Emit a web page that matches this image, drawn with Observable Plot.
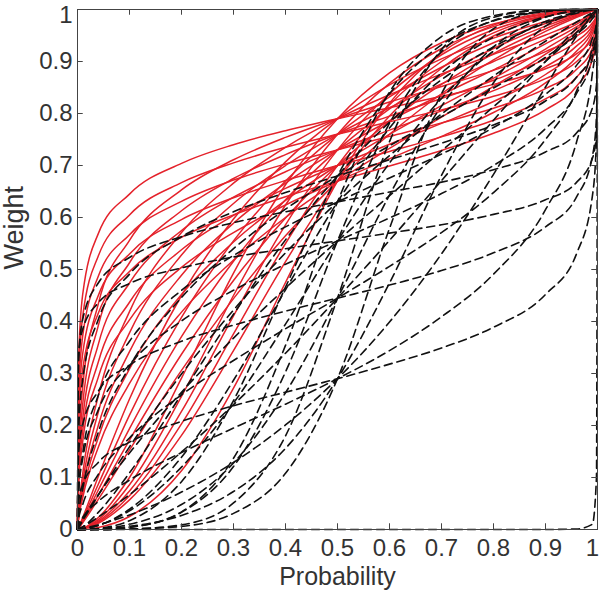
<!DOCTYPE html>
<html><head><meta charset="utf-8">
<script src="https://cdn.jsdelivr.net/npm/d3@7"></script>
<script src="https://cdn.jsdelivr.net/npm/@observablehq/plot@0.6"></script>
<style>body{margin:0;background:#fff}</style>
</head><body><div id="chart"></div>
<script>
// probability grid on which every curve was read
const pGrid = [0, 0.002, 0.01, 0.04, 0.1, 0.2, 0.3, 0.4, 0.5, 0.6, 0.7, 0.8, 0.9, 0.96, 0.99, 0.998, 1];

// red solid curves, grouped by their crossing height at p = 0.5
const redW79 = [
  [0, .326, .452, .569, .645, .704, .740, .767, .790, .811, .833, .856, .886, .915, .945, .967, 1],
  [0, .144, .274, .434, .556, .653, .711, .754, .790, .822, .852, .883, .919, .949, .974, .988, 1],
  [0, .034, .107, .257, .419, .571, .666, .735, .790, .836, .876, .914, .951, .976, .992, .998, 1],
  [0, .004, .023, .102, .251, .450, .597, .707, .790, .855, .905, .945, .977, .992, .998, 1, 1],
  [0, 0, .002, .023, .100, .291, .493, .663, .790, .878, .936, .972, .992, .998, 1, 1, 1]
];
const redW76 = [
  [0, .290, .410, .526, .605, .667, .705, .735, .760, .784, .807, .833, .867, .900, .935, .961, 1],
  [0, .124, .241, .392, .513, .613, .675, .721, .760, .795, .829, .864, .905, .939, .969, .986, 1],
  [0, .029, .091, .226, .378, .528, .627, .700, .760, .811, .857, .900, .943, .972, .990, .997, 1],
  [0, .003, .020, .087, .220, .408, .555, .670, .760, .832, .889, .936, .973, .991, .998, 1, 1],
  [0, 0, .002, .019, .086, .256, .450, .624, .760, .858, .925, .967, .991, .998, 1, 1, 1]
];
const redW73 = [
  [0, .258, .372, .487, .567, .631, .672, .703, .730, .756, .782, .810, .848, .885, .925, .955, 1],
  [0, .108, .213, .356, .474, .575, .639, .688, .730, .768, .805, .844, .890, .930, .964, .984, 1],
  [0, .025, .079, .200, .342, .489, .589, .666, .730, .786, .836, .884, .934, .967, .988, .997, 1],
  [0, .003, .017, .076, .194, .371, .516, .634, .730, .809, .873, .925, .968, .989, .998, 1, 1],
  [0, 0, .002, .016, .074, .227, .411, .586, .730, .838, .913, .961, .989, .998, 1, 1, 1]
];
const redW70 = [
  [0, .231, .338, .450, .530, .596, .638, .671, .700, .727, .755, .787, .828, .870, .914, .948, 1],
  [0, .095, .190, .322, .437, .538, .604, .656, .700, .741, .781, .823, .875, .920, .959, .981, 1],
  [0, .022, .069, .177, .309, .452, .553, .633, .700, .760, .815, .868, .924, .962, .987, .996, 1],
  [0, .003, .015, .066, .172, .337, .479, .599, .700, .785, .856, .915, .963, .987, .997, 1, 1],
  [0, 0, .002, .014, .065, .203, .376, .550, .700, .817, .900, .955, .988, .997, 1, 1, 1]
];
const redW67 = [
  [0, .207, .308, .416, .496, .562, .605, .640, .670, .699, .729, .762, .807, .853, .903, .940, 1],
  [0, .083, .169, .293, .403, .504, .571, .624, .670, .713, .756, .802, .859, .909, .953, .978, 1],
  [0, .019, .061, .158, .281, .418, .518, .600, .670, .733, .793, .852, .914, .957, .985, .995, 1],
  [0, .002, .013, .058, .153, .306, .444, .565, .670, .760, .838, .903, .958, .985, .997, 1, 1],
  [0, 0, .001, .012, .057, .181, .344, .515, .670, .795, .887, .949, .986, .997, 1, 1, 1],
  [0, 0, 0, .004, .025, .113, .272, .475, .670, .820, .917, .970, .994, .999, 1, 1, 1]
];

// black dashed curves, grouped by their crossing height at p = 0.5
const blackW68 = [
  [0, .185, .289, .404, .491, .563, .611, .648, .680, .711, .743, .778, .824, .870, .918, .952, 1],
  [0, .027, .078, .187, .313, .446, .540, .616, .680, .738, .794, .849, .908, .952, .982, .994, 1],
  [0, .001, .005, .033, .109, .260, .414, .557, .680, .783, .865, .928, .974, .993, .999, 1, 1],
  [0, 0, 0, .002, .017, .092, .248, .466, .680, .838, .932, .978, .996, 1, 1, 1, 1]
];
const blackW63 = [
  [0, .330, .404, .474, .523, .563, .590, .611, .630, .649, .668, .692, .726, .763, .810, .855, 1],
  [0, .071, .146, .258, .362, .460, .527, .582, .630, .676, .722, .773, .837, .893, .944, .974, 1],
  [0, .003, .017, .066, .159, .299, .422, .532, .630, .719, .799, .872, .939, .976, .994, .999, 1],
  [0, 0, .001, .008, .039, .139, .287, .461, .630, .772, .878, .947, .986, .997, 1, 1, 1],
  [0, 0, 0, 0, .004, .034, .137, .354, .630, .841, .948, .988, .999, 1, 1, 1, 1]
];
const blackW55 = [
  [0, .329, .385, .436, .473, .503, .524, .540, .555, .570, .586, .606, .634, .668, .713, .760, 1],
  [0, .071, .136, .230, .317, .401, .460, .510, .555, .599, .646, .700, .771, .839, .908, .953, 1],
  [0, .005, .020, .067, .147, .264, .368, .464, .555, .642, .728, .813, .900, .956, .987, .997, 1],
  [0, 0, .001, .008, .036, .120, .243, .395, .555, .705, .829, .920, .977, .995, 1, 1, 1],
  [0, 0, 0, 0, .004, .033, .121, .303, .555, .781, .919, .979, .997, 1, 1, 1, 1]
];
const blackW45 = [
  [0, .145, .202, .266, .316, .362, .393, .420, .445, .470, .498, .532, .582, .640, .717, .791, 1],
  [0, .019, .048, .106, .176, .259, .325, .386, .445, .506, .571, .648, .750, .844, .927, .971, 1],
  [0, .001, .005, .024, .067, .149, .240, .339, .445, .556, .671, .787, .900, .964, .992, .999, 1],
  [0, 0, 0, .001, .010, .048, .128, .263, .445, .643, .814, .928, .985, .998, 1, 1, 1],
  [0, 0, 0, 0, .001, .009, .051, .180, .445, .746, .923, .985, .999, 1, 1, 1, 1]
];
const blackW29 = [
  [0, .053, .086, .129, .168, .208, .238, .264, .290, .318, .349, .389, .452, .531, .640, .749, 1],
  [0, .009, .023, .054, .095, .148, .195, .241, .290, .344, .409, .491, .615, .746, .876, .951, 1],
  [0, 0, .002, .009, .028, .072, .129, .201, .290, .399, .530, .683, .851, .949, .990, .999, 1],
  [0, 0, 0, .001, .006, .027, .073, .156, .290, .474, .681, .859, .968, .995, 1, 1, 1],
  [0, 0, 0, 0, .001, .006, .031, .108, .290, .579, .838, .963, .997, 1, 1, 1, 1]
];
// dashed curve lying on the bottom axis until p reaches 1
const blackW00 = [
  [0, 0, 0, 0, 0, 0, 0, 0, 0, 0, 0, 0, 0, .001, .01, .1, 1]
];

// axis ticks and their labels
const xTicks = [0, 0.1, 0.2, 0.3, 0.4, 0.5, 0.6, 0.7, 0.8, 0.9, 1];
const xTickLabels = ["0", "0.1", "0.2", "0.3", "0.4", "0.5", "0.6", "0.7", "0.8", "0.9", "1"];
const yTicks = [0, 0.1, 0.2, 0.3, 0.4, 0.5, 0.6, 0.7, 0.8, 0.9, 1];
const yTickLabels = ["0", "0.1", "0.2", "0.3", "0.4", "0.5", "0.6", "0.7", "0.8", "0.9", "1"];
const xLabel = "Probability";
const yLabel = "Weight";

function toRows(groups, prefix) {
  const rows = [];
  groups.forEach((curves, gi) => curves.forEach((ws, ci) =>
    ws.forEach((w, k) => rows.push({p: pGrid[k], w, id: prefix + gi + "-" + ci}))));
  return rows;
}
const redRows = toRows([redW79, redW76, redW73, redW70, redW67], "r");
const blackRows = toRows([blackW68, blackW63, blackW55, blackW45, blackW29, blackW00], "b");

const innerTicksX = xTicks.slice(1, -1);
const innerTicksY = yTicks.slice(1, -1);
const xFmt = d => xTickLabels[xTicks.indexOf(d)];
const yFmt = d => yTickLabels[yTicks.indexOf(d)];
const tickFont = 24;

const chart = Plot.plot({
  width: 600, height: 596,
  marginLeft: 77, marginRight: 3, marginTop: 9, marginBottom: 67,
  x: {domain: [0, 1]},
  y: {domain: [0, 1]},
  style: {fontFamily: "'Liberation Sans', Arial, sans-serif", color: "#333", background: "#fff"},
  marks: [
    Plot.line(redRows, {x: "p", y: "w", z: "id", stroke: "#e4222b", strokeWidth: 1.5, curve: "monotone-x"}),
    Plot.line(blackRows, {x: "p", y: "w", z: "id", stroke: "#111", strokeWidth: 1.6, strokeDasharray: "8,5", curve: "monotone-x"}),
    Plot.ruleX(innerTicksX, {x: d => d, y1: 0, y2: 0.011, stroke: "#444"}),
    Plot.ruleX(innerTicksX, {x: d => d, y1: 0.989, y2: 1, stroke: "#444"}),
    Plot.ruleY(innerTicksY, {y: d => d, x1: 0, x2: 0.011, stroke: "#444"}),
    Plot.ruleY(innerTicksY, {y: d => d, x1: 0.989, x2: 1, stroke: "#444"}),
    Plot.frame({stroke: "#444"}),
    Plot.axisX(xTicks.slice(0, -1), {tickSize: 0, tickPadding: 9, fontSize: tickFont, label: null, tickFormat: xFmt}),
    Plot.axisX(xTicks.slice(-1), {tickSize: 0, tickPadding: 9, fontSize: tickFont, label: null, tickFormat: xFmt, dx: -5}),
    Plot.axisY(yTicks.slice(0, -1), {tickSize: 0, tickPadding: 5, fontSize: tickFont, label: null, tickFormat: yFmt}),
    Plot.axisY(yTicks.slice(-1), {tickSize: 0, tickPadding: 5, fontSize: tickFont, label: null, tickFormat: yFmt, dy: 6}),
    Plot.text([xLabel], {frameAnchor: "bottom", dy: 55, fontSize: 25, fill: "#333", text: d => d}),
    Plot.text([yLabel], {frameAnchor: "left", dx: -63, rotate: -90, fontSize: 27, fill: "#333", text: d => d})
  ]
});
document.getElementById("chart").appendChild(chart);
</script>
</body></html>
